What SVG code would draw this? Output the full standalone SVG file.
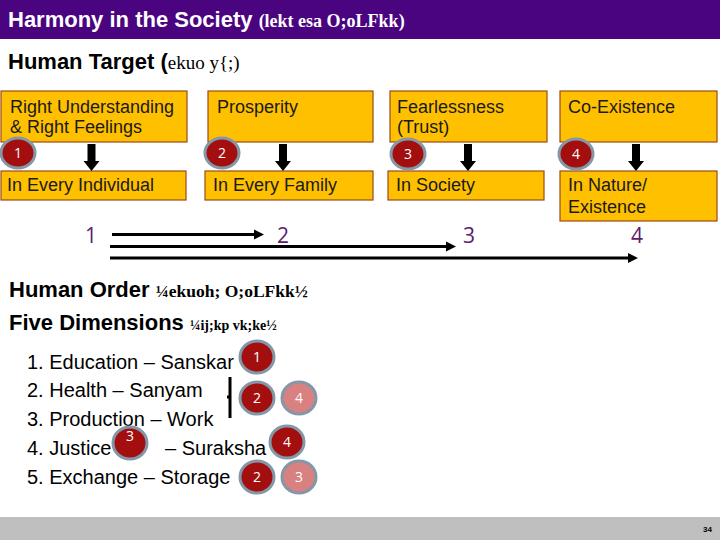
<svg xmlns="http://www.w3.org/2000/svg" width="720" height="540" viewBox="0 0 720 540">
<style>
.sans{font-family:"Liberation Sans",Arial,sans-serif}
.serif{font-family:"Liberation Serif","Times New Roman",serif}
.box{fill:#FFC000;stroke:#9C4A1A;stroke-width:1.2}
.bt{font-family:"Liberation Sans",Arial,sans-serif;font-size:18px;fill:#1a1a1a}
.cd{fill:#A30F0F;stroke:#8497A8;stroke-width:3}
.cl{fill:#D98080;stroke:#8497A8;stroke-width:3}
.cn{font-family:"Open Sans","Liberation Sans",sans-serif;font-size:14px;fill:#ffffff;text-anchor:middle}
.num{font-family:"Open Sans","Liberation Sans",sans-serif;font-size:21px;fill:#5E1C6E;text-anchor:middle}
.h{font-family:"Liberation Sans",Arial,sans-serif;font-size:22px;font-weight:bold;fill:#000}
.li{font-family:"Liberation Sans",Arial,sans-serif;font-size:20px;fill:#000}
.ln{stroke:#000;stroke-width:3;fill:none}
</style>
<defs>
<marker id="ah" viewBox="0 0 10 10" refX="0" refY="5" markerWidth="10" markerHeight="11" markerUnits="userSpaceOnUse" orient="auto">
<path d="M0,0 L10,5 L0,10 z" fill="#000"/>
</marker>
<path id="down" d="M-4,0 h8 v17 h4 l-8,10 l-8,-10 h4 z" fill="#000"/>
</defs>
<rect x="0" y="0" width="720" height="39" fill="#4A0480"/>
<text x="8" y="27" class="sans" font-size="22" font-weight="bold" fill="#ffffff">Harmony in the Society <tspan class="serif" font-size="18">(lekt esa O;oLFkk)</tspan></text>
<text x="8" y="69" class="h">Human Target (<tspan class="serif" font-size="19" font-weight="normal">ekuo y{;)</tspan></text>

<g id="node-right-understanding">
<rect class="box" x="1" y="91" width="186" height="51"/>
<text class="bt" x="10" y="113">Right Understanding</text>
<text class="bt" x="10" y="133">&amp; Right Feelings</text>
</g>
<g id="node-prosperity">
<rect class="box" x="208" y="91" width="165" height="51"/>
<text class="bt" x="217" y="113">Prosperity</text>
</g>
<g id="node-fearlessness">
<rect class="box" x="390" y="91" width="157" height="51"/>
<text class="bt" x="397" y="113">Fearlessness</text>
<text class="bt" x="397" y="133">(Trust)</text>
</g>
<g id="node-coexistence">
<rect class="box" x="560" y="91" width="157" height="51"/>
<text class="bt" x="568" y="113">Co-Existence</text>
</g>
<g id="node-individual">
<rect class="box" x="1" y="171" width="185" height="29"/>
<text class="bt" x="7" y="191">In Every Individual</text>
</g>
<g id="node-family">
<rect class="box" x="205" y="171" width="168" height="29"/>
<text class="bt" x="213" y="191">In Every Family</text>
</g>
<g id="node-society">
<rect class="box" x="388" y="171" width="156" height="29"/>
<text class="bt" x="396" y="191">In Society</text>
</g>
<g id="node-nature">
<rect class="box" x="560" y="171" width="157" height="50"/>
<text class="bt" x="568" y="191">In Nature/</text>
<text class="bt" x="568" y="213">Existence</text>
</g>

<g id="badges-top">
<ellipse class="cd" cx="18" cy="153" rx="17" ry="15"/><text class="cn" x="18" y="158">1</text>
<ellipse class="cd" cx="222" cy="153" rx="17" ry="15"/><text class="cn" x="222" y="158">2</text>
<ellipse class="cd" cx="408" cy="154" rx="17" ry="15"/><text class="cn" x="408" y="159">3</text>
<ellipse class="cd" cx="576" cy="154" rx="17" ry="15"/><text class="cn" x="576" y="159">4</text>
</g>

<g id="connectors">
<use href="#down" x="91.5" y="144"/>
<use href="#down" x="283" y="144"/>
<use href="#down" x="468" y="144"/>
<use href="#down" x="636" y="144"/>
<line class="ln" x1="112" y1="234.5" x2="254" y2="234.5" marker-end="url(#ah)"/>
<line class="ln" x1="110" y1="246.5" x2="446" y2="246.5" marker-end="url(#ah)"/>
<line class="ln" x1="110" y1="258" x2="628" y2="258" marker-end="url(#ah)"/>
<path class="ln" d="M230,377 V418 M227,397 H230"/>
</g>

<g id="stage-numbers">
<text class="num" x="91" y="243">1</text>
<text class="num" x="283" y="243">2</text>
<text class="num" x="469" y="243">3</text>
<text class="num" x="637" y="243">4</text>
</g>

<text x="9" y="297" class="h">Human Order <tspan class="serif" font-size="17.5">¼ekuoh; O;oLFkk½</tspan></text>
<text x="9" y="330" class="h">Five Dimensions <tspan class="serif" font-size="14">¼ij;kp vk;ke½</tspan></text>

<g id="dimensions">
<text class="li" x="27" y="369">1. Education – Sanskar</text>
<text class="li" x="27" y="397">2. Health – Sanyam</text>
<text class="li" x="27" y="426">3. Production – Work</text>
<text class="li" x="27" y="455">4. Justice</text>
<text class="li" x="165" y="455">– Suraksha</text>
<text class="li" x="27" y="484">5. Exchange – Storage</text>
</g>

<g id="badges-list">
<ellipse class="cd" cx="257" cy="357" rx="17" ry="16"/><text class="cn" x="257" y="362">1</text>
<ellipse class="cd" cx="257" cy="398" rx="17" ry="16"/><text class="cn" x="257" y="403">2</text>
<ellipse class="cl" cx="299" cy="398" rx="17" ry="16"/><text class="cn" x="299" y="403">4</text>
<ellipse class="cd" cx="130" cy="443" rx="17" ry="16"/><text class="cn" x="130" y="441">3</text>
<ellipse class="cd" cx="287" cy="442" rx="17" ry="16"/><text class="cn" x="287" y="447">4</text>
<ellipse class="cd" cx="257" cy="477" rx="17" ry="16"/><text class="cn" x="257" y="482">2</text>
<ellipse class="cl" cx="299" cy="477" rx="17" ry="16"/><text class="cn" x="299" y="482">3</text>
</g>

<rect x="0" y="517" width="720" height="23" fill="#BFBFBF"/>
<text x="712" y="532" class="sans" font-size="8" font-weight="bold" text-anchor="end" fill="#000">34</text>
</svg>
